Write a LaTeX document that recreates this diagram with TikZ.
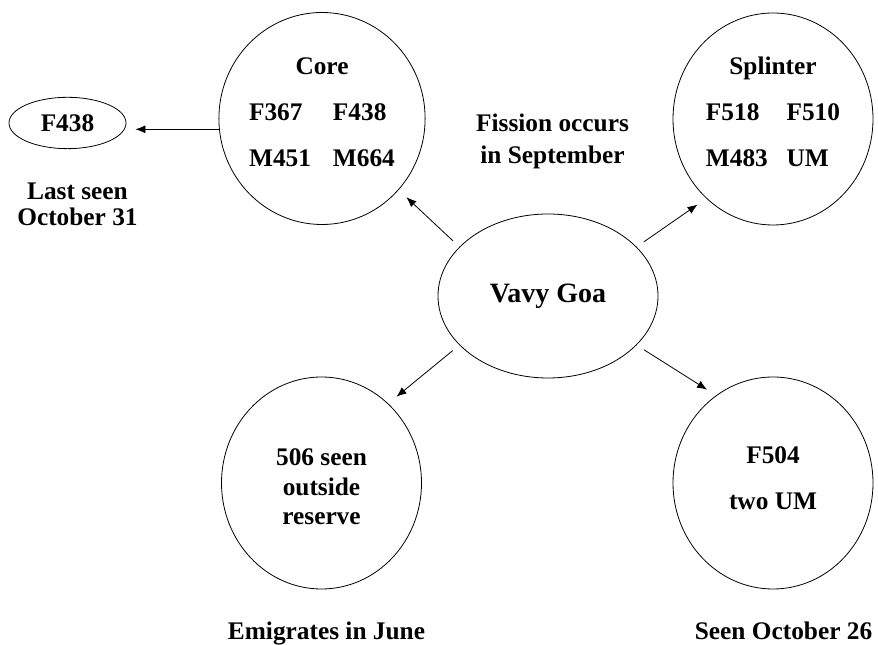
\documentclass[tikz,border=0pt]{standalone}
\usepackage{fontspec}
\setmainfont{Liberation Serif}
\usetikzlibrary{shapes,arrows.meta,positioning}

% raise (#1>0) or lower (#1<0) the text inside a fixed-size node
\newcommand{\nudge}[2]{\ifdim#1>0pt
    \raisebox{0pt}[\height][\dimexpr\depth+2\dimexpr#1\relax\relax]{#2}%
  \else
    \raisebox{0pt}[\dimexpr\height-2\dimexpr#1\relax\relax][\depth]{#2}%
  \fi}

\begin{document}
\begin{tikzpicture}[
    x=0.75pt, y=0.75pt,
    every node/.style={inner sep=0pt, font=\bfseries\fontsize{19}{21}\selectfont},
    blob/.style={ellipse, draw, line width=0.6pt, minimum width=150pt, minimum height=159pt},
    note/.style={align=center},
    arrow/.style={-{Latex[length=7.5pt,width=6pt]}, line width=0.6pt, shorten <=6.5pt, shorten >=8pt}
]
    \useasboundingbox (0,0) rectangle (878,645);

    \node[blob, minimum width=165pt, minimum height=123pt, font=\bfseries\fontsize{21}{25}\selectfont] (vavy) at (548,349) {Vavy Goa};
    \node[blob] (core) at (322,526.5) {\nudge{3pt}{\begin{tabular}{@{}l@{\hspace{16.5pt}}l@{}}
        \multicolumn{2}{c}{Core}\\[13.5pt] F367 & F438\\[13.5pt] M451 & M664
    \end{tabular}}};
    \node[blob] (splinter) at (773,526) {\nudge{3pt}{\begin{tabular}{@{}l@{\hspace{14pt}}l@{}}
        \multicolumn{2}{c}{Splinter}\\[13.5pt] F518 & F510\\[13.5pt] M483 & UM
    \end{tabular}}};
    \node[blob] (emigrant) at (321.5,162) {\nudge{-5pt}{\begin{tabular}{@{}c@{}}
        506 seen\\[1pt] outside\\[1pt] reserve
    \end{tabular}}};
    \node[blob] (remnant) at (773,162) {\nudge{1.2pt}{\begin{tabular}{@{}c@{}}
        F504\\[13.5pt] two UM
    \end{tabular}}};
    \node[ellipse, draw, line width=0.6pt, minimum width=87.75pt, minimum height=38.5pt] (lone) at (67.5,522) {F438};

    \node[note, below=25pt of lone, xshift=7.5pt, font=\bfseries\fontsize{19}{20}\selectfont] (lastseen) {Last seen\\October 31};
    \node[note, anchor=north, font=\bfseries\fontsize{19}{24}\selectfont] (fission) at (552.5,531) {Fission occurs\\in September};
    \node[below=24pt of emigrant, xshift=3.75pt] (emigrates) {Emigrates in June};
    \node[below=24pt of remnant, xshift=7.9pt] (seen) {Seen October 26};

    \draw[arrow, shorten <=0pt, shorten >=6.75pt] (core.186) -- (lone.east |- core.186);
    \draw[arrow] (vavy.151) -- (core.317);
    \draw[arrow] (vavy.29) -- (splinter.230);
    \draw[arrow] (vavy.209) -- (emigrant.50);
    \draw[arrow] (vavy.331) -- (remnant.123);
\end{tikzpicture}
\end{document}
